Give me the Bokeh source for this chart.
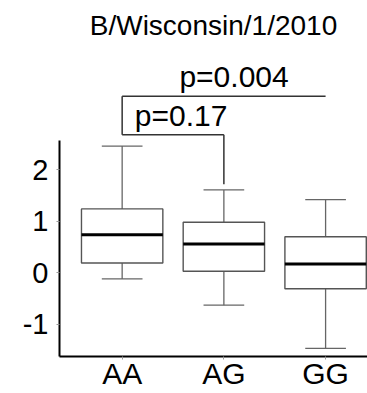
import numpy as np
from bokeh.plotting import figure
from bokeh.models import Range1d, FixedTicker, ColumnDataSource
from bokeh.core.properties import value
from bokeh.embed import file_html
from bokeh.resources import INLINE

# ---- data ----
groups = ["AA", "AG", "GG"]
lower_whisker = [-0.12, -0.63, -1.47]
q1 = [0.19, 0.03, -0.31]
median = [0.74, 0.56, 0.17]
q3 = [1.24, 0.98, 0.70]
upper_whisker = [2.46, 1.61, 1.42]
y_ticks = [-1, 0, 1, 2]
title_text = "B/Wisconsin/1/2010"
comparisons = [("AA", "AG", "p=0.17"), ("AA", "GG", "p=0.004")]

FONT = "Liberation Sans"
pos = np.arange(1, len(groups) + 1)
gidx = {g: i + 1 for i, g in enumerate(groups)}

p = figure(width=367, height=393, output_backend="svg", toolbar_location=None,
           x_range=Range1d(0.384, 3.412), y_range=Range1d(-1.627, 4.376),
           min_border_left=59, min_border_right=0, min_border_top=45,
           min_border_bottom=37)
p.outline_line_color = None
p.xgrid.visible = False
p.ygrid.visible = False
p.background_fill_color = "white"
p.border_fill_color = "white"

p.title.text = title_text
p.title.align = "center"
p.title.offset = 10
p.title.standoff = 14
p.title.text_font = FONT
p.title.text_font_style = "normal"
p.title.text_font_size = "28px"
p.title.text_color = "black"

src = ColumnDataSource(dict(x=pos, lw=lower_whisker, q1=q1, med=median, q3=q3, uw=upper_whisker,
                            x0=pos - 0.4, x1=pos + 0.4, c0=pos - 0.2, c1=pos + 0.2))
wcol = "#666666"
p.segment(x0="x", y0="q3", x1="x", y1="uw", source=src, line_color=wcol, line_width=1.3)
p.segment(x0="x", y0="q1", x1="x", y1="lw", source=src, line_color=wcol, line_width=1.3)
p.segment(x0="c0", y0="uw", x1="c1", y1="uw", source=src, line_color=wcol, line_width=1.3)
p.segment(x0="c0", y0="lw", x1="c1", y1="lw", source=src, line_color=wcol, line_width=1.3)
p.vbar(x="x", width=0.8, bottom="q1", top="q3", source=src, fill_color="white",
       line_color="#555555", line_width=1.4)
p.segment(x0="x0", y0="med", x1="x1", y1="med", source=src, line_color="black", line_width=3)

# significance brackets
h_small = upper_whisker[0] + 0.22
h_big = h_small + 0.75
a, b, lab = comparisons[0]
xa, xb = gidx[a], gidx[b]
p.segment(x0=[xa, xb], y0=[h_small, h_small], x1=[xb, xb], y1=[h_small, upper_whisker[1] + 0.11],
          line_color="#333333", line_width=1.5)
p.text(x=[(xa + xb) / 2 + 0.08], y=[h_small + 0.06], text=[lab], text_align="center",
       text_baseline="bottom", text_font=value(FONT), text_font_size="30px", text_color="black")
a, b, lab = comparisons[1]
xa, xb = gidx[a], gidx[b]
p.segment(x0=[xa, xa], y0=[h_big, h_big], x1=[xb, xa], y1=[h_big, h_small],
          line_color="#333333", line_width=1.5)
p.text(x=[(xa + xb) / 2 + 0.1], y=[h_big + 0.06], text=[lab], text_align="center",
       text_baseline="bottom", text_font=value(FONT), text_font_size="30px", text_color="black")

# axes
p.xaxis.ticker = FixedTicker(ticks=list(pos))
p.xaxis.major_label_overrides = {int(i): g for i, g in zip(pos, groups)}
p.yaxis.ticker = FixedTicker(ticks=y_ticks)
p.yaxis.major_label_overrides = {t: str(t) for t in y_ticks}
p.yaxis.bounds = (-1.627, 2.56)
for ax in (p.xaxis[0], p.yaxis[0]):
    ax.axis_line_color = "black"
    ax.axis_line_width = 2
    ax.major_tick_line_color = "#999999"
    ax.major_tick_out = 3
    ax.major_tick_in = 0
    ax.minor_tick_line_color = None
    ax.major_label_text_font = FONT
    ax.major_label_text_color = "black"
p.xaxis.major_label_text_font_size = "30px"
p.xaxis.major_label_standoff = -3
p.yaxis.major_label_text_font_size = "29px"
p.yaxis.major_label_standoff = 8

open("out.html", "w").write(file_html(p, INLINE))
